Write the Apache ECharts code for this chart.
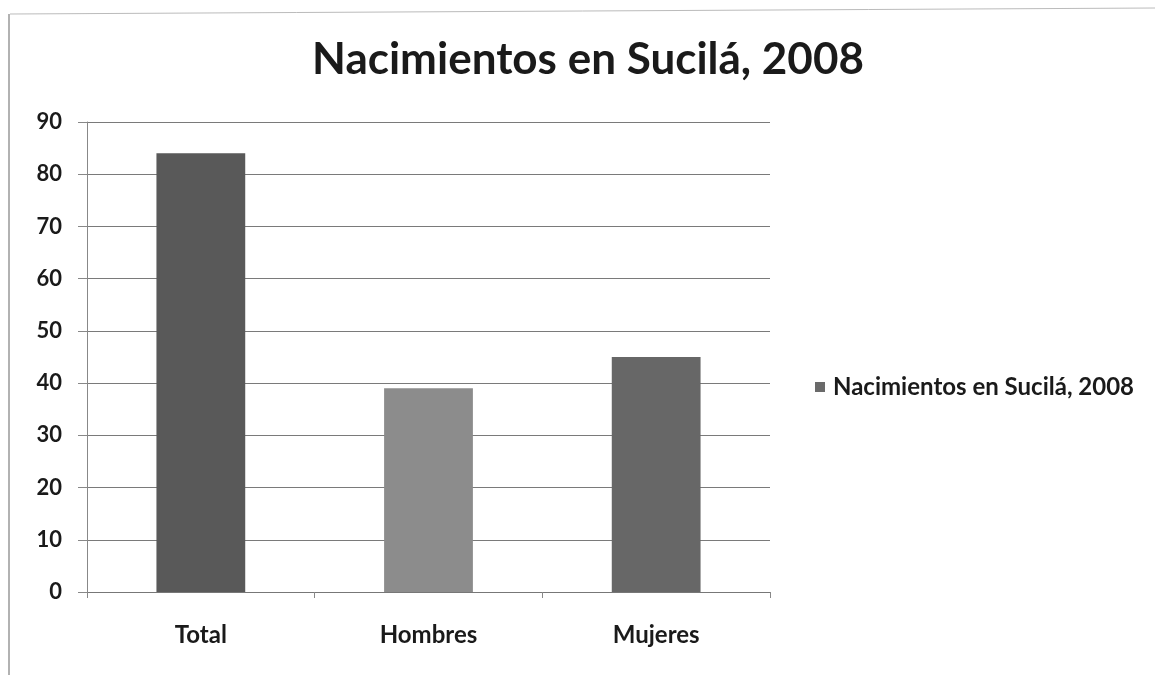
<!DOCTYPE html>
<html>
<head>
<meta charset="utf-8">
<script src="https://cdn.jsdelivr.net/npm/echarts@6/dist/echarts.min.js"></script>
<style>html,body{margin:0;padding:0;background:#fff}#c{width:1155px;height:675px}</style>
</head>
<body>
<div id="c"></div>
<script>
var titleText = 'Nacimientos en Sucilá, 2008';
var seriesName = 'Nacimientos en Sucilá, 2008';
var categories = ['Total', 'Hombres', 'Mujeres'];
var values = [84, 39, 45];
var barColors = ['#595959', '#8c8c8c', '#676767'];
var yMin = 0, yMax = 90, yStep = 10;

var chart = echarts.init(document.getElementById('c'));
chart.setOption({
  backgroundColor: '#ffffff',
  animation: false,
  title: {
    text: titleText,
    left: 583, top: 33, textAlign: 'center',
    textStyle: { fontFamily: 'Lato', fontWeight: 'bold', fontSize: 44, color: '#1a1a1a' }
  },
  legend: {
    left: 810, top: 370, orient: 'vertical',
    itemWidth: 10, itemHeight: 10,
    icon: 'rect',
    data: [{ name: seriesName, itemStyle: { color: '#6a6a6a' } }],
    textStyle: { fontFamily: 'Lato', fontWeight: 'bold', fontSize: 24, color: '#1a1a1a', padding: [0, 0, 0, 3] }
  },
  grid: { left: 87, right: 385, top: 122, bottom: 83, containLabel: false },
  xAxis: {
    type: 'category',
    data: categories,
    axisLine: { lineStyle: { color: '#777', width: 1 } },
    axisTick: { show: true, alignWithLabel: false, length: 6, lineStyle: { color: '#888' } },
    axisLabel: { margin: 31, fontFamily: 'Lato', fontWeight: 'bold', fontSize: 24, color: '#1a1a1a' }
  },
  yAxis: {
    type: 'value', min: yMin, max: yMax, interval: yStep,
    axisLine: { show: true, lineStyle: { color: '#888', width: 1 } },
    axisTick: { show: true, length: 9, lineStyle: { color: '#888' } },
    splitLine: { lineStyle: { color: '#7a7a7a', width: 1.2 } },
    axisLabel: { margin: 25, fontFamily: 'Lato', fontWeight: 'bold', fontSize: 22, color: '#1a1a1a' }
  },
  series: [{
    name: seriesName,
    type: 'bar',
    barWidth: '39%',
    data: values.map(function (v, i) { return { value: v, itemStyle: { color: barColors[i] } }; }),
    itemStyle: { color: '#6a6a6a' }
  }],
  graphic: [
    { type: 'line', shape: { x1: 10, y1: 14, x2: 1155, y2: 8 }, style: { stroke: '#bbb', lineWidth: 1 } },
    { type: 'line', shape: { x1: 9, y1: 14, x2: 9, y2: 675 }, style: { stroke: '#999', lineWidth: 1.5 } }
  ]
});
</script>
</body>
</html>
